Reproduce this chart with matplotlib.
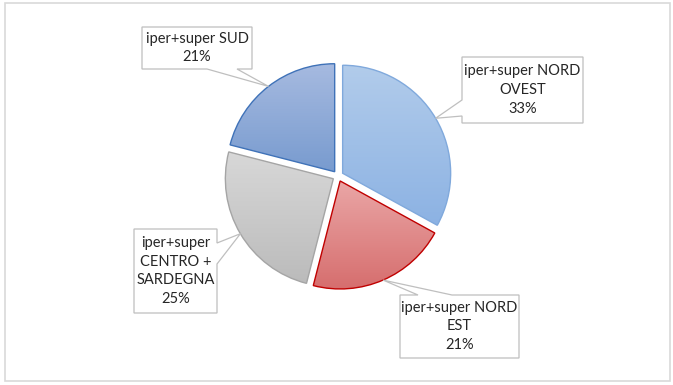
import numpy as np
import matplotlib
matplotlib.use("Agg")
import matplotlib.pyplot as plt
from matplotlib.patches import Polygon, Rectangle
from matplotlib.colors import LinearSegmentedColormap

plt.rcParams['font.family'] = ['Lato', 'DejaVu Sans']

# data
labels = ["iper+super NORD\nOVEST", "iper+super NORD\nEST",
          "iper+super\nCENTRO +\nSARDEGNA", "iper+super SUD"]
shares = [33, 21, 25, 21]

# gradient top / bottom colours and edge colours
tops = ["#B2CCEB", "#EAA6A6", "#D8D8D8", "#A6BAE0"]
bottoms = ["#8CB2E3", "#D66E6E", "#BBBBBB", "#789BCF"]
edges = ["#80A9DC", "#C00000", "#A5A5A5", "#3F72B8"]

W, H = 673, 385
cx, cy, R = 338, H - 176, 108
expl = 0.05  # fraction of radius

# callout boxes in pixel coords (x0, top, x1, bottom), side with pointer, pointer base
boxes = [(462, 57, 583, 123), (400, 295, 519, 358), (134, 229, 217, 313), (142, 27, 252, 69)]
sides = ["left", "top", "right", "bottom"]
bases = [(100, 116), (418, 452), (243, 264), (207, 237)]

fig = plt.figure(figsize=(W / 100, H / 100), dpi=100)
ax = fig.add_axes([0, 0, 1, 1])

wedges, _ = ax.pie(shares, startangle=90, counterclock=False, radius=R,
                   center=(cx, cy), explode=[expl * R] * len(shares),
                   wedgeprops=dict(linewidth=1.0))

grad = np.linspace(0, 1, 256).reshape(-1, 1)
for w, c1, c2, ec in zip(wedges, tops, bottoms, edges):
    ext = w.get_path().get_extents()
    cmap = LinearSegmentedColormap.from_list("g", [c2, c1])
    im = ax.imshow(grad, cmap=cmap, origin="lower", aspect="auto",
                   extent=(ext.x0, ext.x1, ext.y0, ext.y1), zorder=1)
    im.set_clip_path(w)
    w.set_facecolor("none")
    w.set_edgecolor(ec)
    w.set_zorder(2)

# callouts
total = sum(shares)
start = 90.0
for lab, v, box, side, (a, b) in zip(labels, shares, boxes, sides, bases):
    mid = start - 360.0 * v / total / 2
    start -= 360.0 * v / total
    rad = np.deg2rad(mid)
    tip = (cx + R * (1 + expl) * np.cos(rad), cy + R * (1 + expl) * np.sin(rad))
    x0, t, x1, btm = box
    y0, y1 = H - t, H - btm
    if side == "top":
        pts = [(x0, y0), (a, y0), tip, (b, y0), (x1, y0), (x1, y1), (x0, y1)]
    elif side == "right":
        pts = [(x0, y0), (x1, y0), (x1, H - a), tip, (x1, H - b), (x1, y1), (x0, y1)]
    elif side == "bottom":
        pts = [(x0, y0), (x1, y0), (x1, y1), (b, y1), tip, (a, y1), (x0, y1)]
    else:
        pts = [(x0, y0), (x1, y0), (x1, y1), (x0, y1), (x0, H - b), tip, (x0, H - a)]
    ax.add_patch(Polygon(pts, closed=True, facecolor="white", edgecolor="#BFBFBF",
                         linewidth=0.9, zorder=3))
    ax.text((x0 + x1) / 2, (y0 + y1) / 2, f"{lab}\n{v}%", ha="center", va="center",
            fontsize=10.5, color="#262626", linespacing=1.45, zorder=4)

ax.add_patch(Rectangle((5, H - 381), 665, 378, facecolor="none", edgecolor="#D9D9D9",
                       linewidth=1.2, zorder=0))

ax.set_xlim(0, W)
ax.set_ylim(0, H)
ax.set_aspect("equal")
ax.axis("off")

fig.savefig("out.png", dpi=100)
